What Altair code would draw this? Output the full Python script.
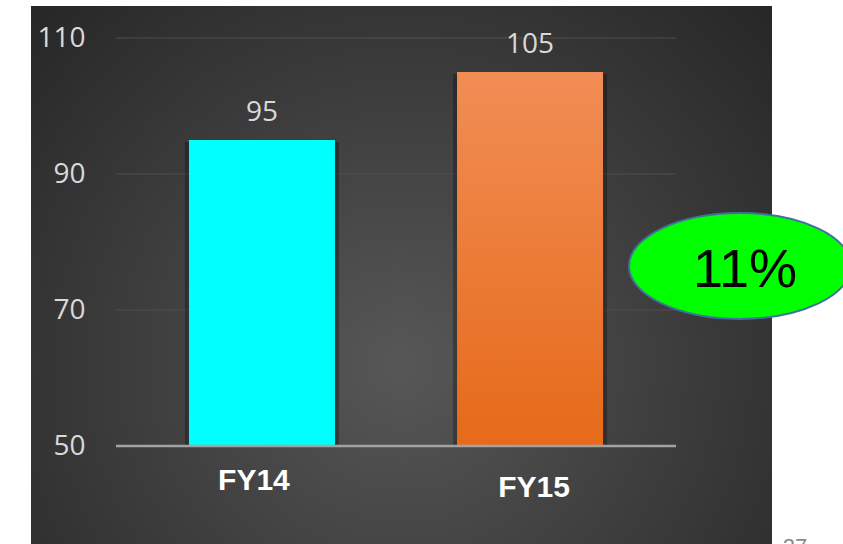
import altair as alt
import pandas as pd

categories = ["FY14", "FY15"]
values = [95, 105]
y_ticks = [50, 70, 90, 110]
growth_label = ["11%"]
page_number = ["27"]

df = pd.DataFrame({"cat": categories, "val": values})
grid_df = pd.DataFrame({"t": y_ticks[1:]})
base_df = pd.DataFrame({"t": y_ticks[:1]})
one = pd.DataFrame({"a": [0]})

W, H = 560, 408
x_scale = alt.Scale(domain=categories, paddingInner=0.455, paddingOuter=0.272)
y_scale = alt.Scale(domain=[y_ticks[0], y_ticks[-1]], zero=False, nice=False)
y_axis = alt.Axis(values=y_ticks, grid=False, domain=False, ticks=False, labelPadding=31,
                  labelFont="Open Sans", labelFontSize=28, labelColor="#d9d9d9", title=None,
                  zindex=1)

X = alt.X("cat:N", scale=x_scale, axis=None, sort=categories)

bg = alt.Chart(one).mark_rect(
    fill={"gradient": "radial", "x1": 0.5, "y1": 0.62, "r1": 0, "x2": 0.5, "y2": 0.62, "r2": 0.7,
          "stops": [{"offset": 0, "color": "#575757"}, {"offset": 0.5, "color": "#3e3e3e"},
                    {"offset": 1, "color": "#262626"}]}
).encode(x=alt.value(-85), x2=alt.value(656), y=alt.value(-32), y2=alt.value(506))

grid = alt.Chart(grid_df).mark_rule(color="#4e4e4e", strokeWidth=1.2).encode(
    y=alt.Y("t:Q", scale=y_scale, axis=y_axis))

shadow = alt.Chart(df).mark_bar(color="black", opacity=0.28, size=154, yOffset=2).encode(
    x=X, y=alt.Y("val:Q", scale=y_scale, axis=y_axis), y2=alt.datum(y_ticks[0]))

bar14 = alt.Chart(df).transform_filter(alt.datum.cat == categories[0]).mark_bar(
    color="#00ffff", size=146).encode(
    x=X, y=alt.Y("val:Q", scale=y_scale, axis=y_axis), y2=alt.datum(y_ticks[0]))

bar15 = alt.Chart(df).transform_filter(alt.datum.cat == categories[1]).mark_bar(
    size=146,
    fill={"gradient": "linear", "x1": 0, "y1": 0, "x2": 0, "y2": 1,
          "stops": [{"offset": 0, "color": "#f18d55"}, {"offset": 1, "color": "#e66a19"}]}
).encode(x=X, y=alt.Y("val:Q", scale=y_scale, axis=y_axis), y2=alt.datum(y_ticks[0]))

baseline = alt.Chart(base_df).mark_rule(color="#a3a3a3", strokeWidth=2.5).encode(
    y=alt.Y("t:Q", scale=y_scale, axis=y_axis))

vals = alt.Chart(df).mark_text(baseline="alphabetic", dy=-19, font="Open Sans", fontSize=28,
                               color="#d9d9d9").encode(
    x=X, y=alt.Y("val:Q", scale=y_scale, axis=y_axis), text="val:Q")

lab14 = alt.Chart(df).transform_filter(alt.datum.cat == categories[0]).mark_text(
    baseline="alphabetic", dy=44, dx=-8, font="Liberation Sans", fontWeight="bold",
    fontSize=30, color="white").encode(
    x=X, y=alt.datum(y_ticks[0], scale=y_scale, axis=y_axis), text="cat:N")

lab15 = alt.Chart(df).transform_filter(alt.datum.cat == categories[1]).mark_text(
    baseline="alphabetic", dy=51, dx=4, font="Liberation Sans", fontWeight="bold",
    fontSize=30, color="white").encode(
    x=X, y=alt.datum(y_ticks[0], scale=y_scale, axis=y_axis), text="cat:N")

k = 0.5523
ry = 0.477
ell_path = (f"M 1 0 C 1 {k*ry:.4f} {k} {ry} 0 {ry} C -{k} {ry} -1 {k*ry:.4f} -1 0 "
            f"C -1 -{k*ry:.4f} -{k} -{ry} 0 -{ry} C {k} -{ry} 1 -{k*ry:.4f} 1 0 Z")
ellipse = alt.Chart(one).mark_point(
    shape=ell_path, size=222 * 222, fill="#00ff00", stroke="#41719c", strokeWidth=2,
    opacity=1, fillOpacity=1, strokeOpacity=1).encode(x=alt.value(624), y=alt.value(228))

growth = alt.Chart(pd.DataFrame({"g": growth_label})).mark_text(
    font="Liberation Sans", fontSize=54, color="black", align="center", baseline="alphabetic"
).encode(x=alt.value(629), y=alt.value(249), text="g:N")

page = alt.Chart(pd.DataFrame({"p": page_number})).mark_text(
    font="Liberation Sans", fontSize=22, color="#8a8a8a", align="center", baseline="top"
).encode(x=alt.value(679), y=alt.value(499), text="p:N")

chart = alt.layer(bg, grid, shadow, bar14, bar15, baseline, vals, lab14, lab15,
                  ellipse, growth, page).properties(
    width=W, height=H, autosize="none",
    padding={"left": 116, "top": 38, "right": 167, "bottom": 98},
    background="white",
).configure_view(stroke=None)

chart.save("out.html", embed_options={"renderer": "svg", "actions": False})
